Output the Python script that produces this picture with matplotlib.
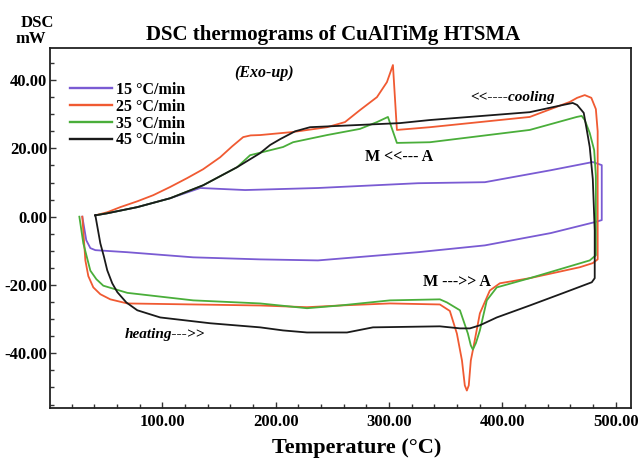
import matplotlib
matplotlib.use("Agg")
import matplotlib.pyplot as plt
from matplotlib.ticker import MultipleLocator, FormatStrFormatter

# ---------------- data ----------------
labels = ["15 \u00b0C/min", "25 \u00b0C/min", "35 \u00b0C/min", "45 \u00b0C/min"]
colors = ["#7a5bd3", "#f05a32", "#4aae3a", "#1a1a1a"]

# 15 C/min loop: heating -> right edge -> cooling
t15 = [29.5, 33.0, 36.6, 41.0, 69.2, 127.3, 186.3, 237.4, 325.6, 384.6, 442.7, 481.5,
       487.7, 487.7, 479.7, 442.7, 384.6, 325.6, 237.4, 173.1, 133.5,
       107.0, 78.0, 51.5, 41.0]
d15 = [0.0, -6.9, -9.2, -9.8, -10.4, -11.9, -12.5, -12.8, -10.4, -8.4, -4.8, -1.6,
       -1.0, 15.1, 16.0, 13.6, 10.1, 9.8, 8.4, 7.8, 8.4,
       5.4, 2.8, 1.0, 0.4]

# 25 C/min loop
t25 = [29.5, 32.2, 34.8, 39.2, 45.4, 54.2, 69.2, 186.3, 227.7, 256.8, 300.9, 344.9,
       353.7, 359.9, 364.4, 366.9, 368.7, 370.4, 372.2, 374.0, 380.2, 389.0,
       397.8, 424.2, 468.3, 479.7, 484.1, 484.1, 482.5, 478.5, 472.7, 466.0,
       459.5, 424.2, 336.1, 307.0, 303.5, 298.2, 289.4, 274.4, 261.2, 245.4, 215.4,
       186.3, 178.0, 171.4, 161.7, 151.1, 136.1, 122.0, 107.0, 92.1, 78.0, 63.0, 51.5, 41.0]
d25 = [0.0, -12.8, -17.4, -20.7, -22.7, -24.2, -25.4, -26.0, -26.5, -26.0, -25.4, -25.7,
       -27.6, -34.2, -42.1, -49.4, -50.9, -49.4, -42.1, -39.1, -28.3, -21.6,
       -19.5, -18.0, -14.8, -13.6, -12.5, 25.0, 31.5, 34.8, 35.6, 34.8,
       33.6, 29.2, 26.2, 25.4, 44.4, 39.4, 35.0, 31.2, 27.7, 26.2, 24.8,
       23.9, 23.8, 23.3, 20.6, 17.4, 13.9, 11.3, 8.7, 6.3, 4.5, 2.8, 1.3, 0.4]

# 35 C/min loop
t35 = [26.9, 30.4, 36.6, 41.9, 48.0, 69.2, 127.3, 186.3, 227.7, 256.8, 300.9,
       344.9, 351.1, 362.6, 369.6, 372.2, 374.0, 376.7, 380.2, 386.3, 395.1,
       424.2, 477.1, 482.5, 482.5, 481.0, 477.1, 472.7, 470.0, 465.6, 424.2,
       336.1, 307.0, 299.1, 289.4, 274.4, 245.4, 215.4, 206.6, 177.5, 166.1,
       136.1, 107.0, 78.0, 51.5, 41.0]
d35 = [0.0, -7.8, -15.8, -18.3, -20.2, -22.3, -24.5, -25.4, -26.8, -26.0, -24.5,
       -24.2, -25.1, -27.4, -34.2, -37.7, -38.9, -37.0, -33.3, -24.5, -20.7,
       -18.0, -12.8, -11.3, 12.0, 19.5, 24.5, 28.3, 29.5, 29.2, 25.4,
       21.8, 21.6, 29.2, 27.7, 25.7, 23.9, 21.8, 20.4, 18.0, 14.5,
       9.2, 5.4, 2.8, 1.0, 0.4]

# 45 C/min loop
t45 = [41.0, 45.4, 48.5, 51.5, 55.9, 60.4, 68.3, 78.0, 98.2, 142.3, 186.3, 206.6, 227.7,
       263.0, 285.9, 344.9, 362.6, 371.4, 380.2, 395.1, 424.2, 453.3, 478.9,
       481.5, 481.5, 479.8, 477.1, 474.5, 471.8, 466.0, 462.1, 453.3, 424.2,
       336.1, 309.7, 230.4, 217.2, 204.0, 195.2, 186.3, 166.1, 136.1, 107.0,
       78.0, 51.5, 41.0]
d45 = [0.4, -7.8, -11.6, -15.7, -19.5, -22.1, -25.1, -27.4, -29.5, -31.2, -32.4, -33.3, -33.9,
       -33.9, -32.4, -32.1, -32.7, -32.7, -31.8, -29.5, -26.0, -22.4, -19.2,
       -18.0, -4.0, 11.0, 20.4, 25.4, 30.4, 32.7, 33.3, 32.7, 30.6,
       28.3, 27.4, 26.2, 25.0, 22.7, 21.0, 18.6, 14.5, 9.2, 5.4,
       2.8, 1.0, 0.4]

series_t = [t15, t25, t35, t45]
series_d = [d15, d25, d35, d45]

x_ticks = [100, 200, 300, 400, 500]
y_ticks = [-40, -20, 0, 20, 40]

# ---------------- figure ----------------
W, H = 638, 463
fig = plt.figure(figsize=(W / 100, H / 100), dpi=100)
fig.patch.set_facecolor("white")
ax = fig.add_axes([50 / W, 1 - 408.3 / H, (631 - 50) / W, (408.3 - 48.3) / H])

serif = ["Liberation Serif", "DejaVu Serif"]

for i, (t, d) in enumerate(zip(series_t, series_d)):
    ax.plot(t, d, color=colors[i], lw=1.3, label=labels[i], zorder=2 + i,
            solid_joinstyle="round")

ax.set_xlim(1, 513.5)
ax.set_ylim(-56.1, 49.3)

ax.xaxis.set_major_locator(plt.FixedLocator(x_ticks))
ax.yaxis.set_major_locator(plt.FixedLocator(y_ticks))
ax.xaxis.set_minor_locator(MultipleLocator(20))
ax.yaxis.set_minor_locator(MultipleLocator(5))
ax.xaxis.set_major_formatter(FormatStrFormatter("%.2f"))
ax.yaxis.set_major_formatter(FormatStrFormatter("%.2f"))
ax.tick_params(which="both", direction="in", top=False, right=False, width=1.0, color="#333333")
ax.tick_params(which="major", length=4.5)
ax.tick_params(which="minor", length=3)
ax.tick_params(axis="y", pad=2)
ax.tick_params(axis="x", pad=4)
for lab in ax.get_xticklabels() + ax.get_yticklabels():
    lab.set_fontfamily(serif)
    lab.set_fontweight("bold")
    lab.set_fontsize(12)

for sp in ax.spines.values():
    sp.set_linewidth(1.3)
    sp.set_color("#222222")

# title & axis labels
fig.text(333 / W, 1 - 35 / H, "DSC thermograms of CuAlTiMg HTSMA", ha="center", va="center",
         fontsize=15, fontweight="bold", family=serif)
fig.text(357 / W, 1 - 448 / H, "Temperature (\u00b0C)", ha="center", va="center",
         fontsize=16, fontweight="bold", family=serif)
fig.text(37.5 / W, 1 - 23 / H, "DSC", ha="center", va="center",
         fontsize=12, fontweight="bold", family=serif)
fig.text(31 / W, 1 - 39 / H, "mW", ha="center", va="center",
         fontsize=12, fontweight="bold", family=serif)

# annotations
ax.text(189.9, 42.1, "(Exo-up)", ha="center", va="center", fontsize=11.5,
        fontweight="bold", fontstyle="italic", family=serif)
ax.text(409.3, 35.0, "<<----cooling", ha="center", va="center", fontsize=11,
        fontweight="bold", fontstyle="italic", family=serif)
ax.text(308.8, 17.4, "M <<--- A", ha="center", va="center", fontsize=11.5,
        fontweight="bold", family=serif)
ax.text(359.9, -19.2, "M --->> A", ha="center", va="center", fontsize=11.5,
        fontweight="bold", family=serif)
ax.text(102.6, -34.5, "heating--->>", ha="center", va="center", fontsize=11,
        fontweight="bold", fontstyle="italic", family=serif)

leg = ax.legend(loc="upper left", bbox_to_anchor=(70 / W, 1 - 82 / H),
                bbox_transform=fig.transFigure, frameon=False,
                prop={"family": serif, "weight": "bold", "size": 11.5},
                handlelength=2.6, handletextpad=0.25, labelspacing=0.05,
                borderpad=0, borderaxespad=0)
for line in leg.get_lines():
    line.set_linewidth(1.7)

fig.savefig("out.png", dpi=100, facecolor="white")
